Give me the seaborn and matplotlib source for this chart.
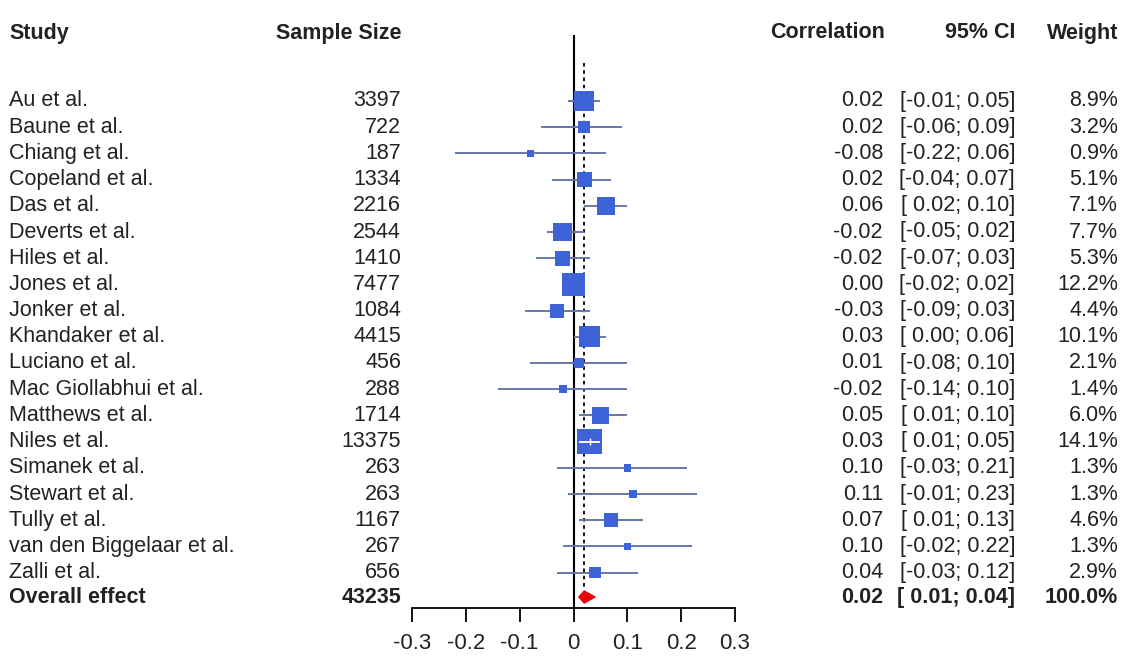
import matplotlib
matplotlib.use("Agg")
import matplotlib.pyplot as plt
import matplotlib.transforms as mtransforms
from matplotlib.patches import Polygon
import numpy as np
import seaborn as sns

# dados do forest plot
studies = ["Au et al.", "Baune et al.", "Chiang et al.", "Copeland et al.", "Das et al.",
           "Deverts et al.", "Hiles et al.", "Jones et al.", "Jonker et al.", "Khandaker et al.",
           "Luciano et al.", "Mac Giollabhui et al.", "Matthews et al.", "Niles et al.",
           "Simanek et al.", "Stewart et al.", "Tully et al.", "van den Biggelaar et al.",
           "Zalli et al."]
sample_size = [3397, 722, 187, 1334, 2216, 2544, 1410, 7477, 1084, 4415,
               456, 288, 1714, 13375, 263, 263, 1167, 267, 656]
corr = [0.02, 0.02, -0.08, 0.02, 0.06, -0.02, -0.02, 0.00, -0.03, 0.03,
        0.01, -0.02, 0.05, 0.03, 0.10, 0.11, 0.07, 0.10, 0.04]
ci_low = [-0.01, -0.06, -0.22, -0.04, 0.02, -0.05, -0.07, -0.02, -0.09, 0.00,
          -0.08, -0.14, 0.01, 0.01, -0.03, -0.01, 0.01, -0.02, -0.03]
ci_high = [0.05, 0.09, 0.06, 0.07, 0.10, 0.02, 0.03, 0.02, 0.03, 0.06,
           0.10, 0.10, 0.10, 0.05, 0.21, 0.23, 0.13, 0.22, 0.12]
weight = [8.9, 3.2, 0.9, 5.1, 7.1, 7.7, 5.3, 12.2, 4.4, 10.1,
          2.1, 1.4, 6.0, 14.1, 1.3, 1.3, 4.6, 1.3, 2.9]

overall_label = "Overall effect"
overall_n = 43235
overall_r = 0.02
overall_low = 0.01
overall_high = 0.04
overall_weight = 100.0

xticks = [-0.3, -0.2, -0.1, 0, 0.1, 0.2, 0.3]
xtick_labels = ["-0.3", "-0.2", "-0.1", "0", "0.1", "0.2", "0.3"]

sns.set_theme(style="white")
plt.rcParams["font.family"] = ["Liberation Sans", "DejaVu Sans"]
plt.rcParams["axes.unicode_minus"] = False

W, H = 1122, 660
fig = plt.figure(figsize=(W / 100, H / 100), dpi=100)
fig.patch.set_facecolor("white")

# area do grafico em pixels
left, right, top, bottom = 412, 735, 35, 608
ax = fig.add_axes([left / W, 1 - bottom / H, (right - left) / W, (bottom - top) / H])
ax.set_facecolor("white")

row0, step = 101, 26.2
rows = np.arange(len(studies))
y_overall = (597 - row0) / step
y_header = (33 - row0) / step
ax.set_xlim(-0.3, 0.3)
ax.set_ylim((bottom - row0) / step, (top - row0) / step)

# linhas de referencia
ax.axvline(0, color="black", lw=1.5, zorder=1)
ax.vlines(overall_r, (63 - row0) / step, (588 - row0) / step, color="black",
          lw=1.3, linestyles=(0, (2, 2)), zorder=1)

# tamanho dos quadrados ~ sqrt(peso)
side_px = 6.66 * np.sqrt(np.array(weight))
px_per_unit = (right - left) / 0.6
line_col = "#6677a8"
box_col = "#3e63d9"

ax.hlines(rows, ci_low, ci_high, color=line_col, lw=1.4, zorder=2)

sns.scatterplot(x=corr, y=rows, marker="s", s=(side_px * 0.72) ** 2,
                color=box_col, linewidth=0, ax=ax, zorder=3, legend=False)

# intervalo dentro do quadrado fica branco
for i in rows:
    half = side_px[i] / 2 / px_per_unit
    if ci_low[i] > corr[i] - half + 0.0025 and ci_high[i] < corr[i] + half - 0.0025:
        ax.hlines(i, ci_low[i], ci_high[i], color="white", lw=1.4, zorder=4)
        ax.vlines(corr[i], i - 0.12, i + 0.12, color="white", lw=1.0, zorder=4)

dh = 6 / step
diamond = Polygon([(overall_low, y_overall), (overall_r, y_overall - dh),
                   (overall_high, y_overall), (overall_r, y_overall + dh)],
                  closed=True, facecolor="#e8000b", edgecolor="#e8000b", zorder=4)
ax.add_patch(diamond)

for s in ["left", "top", "right"]:
    ax.spines[s].set_visible(False)
ax.spines["bottom"].set_color("black")
ax.spines["bottom"].set_linewidth(1.3)
ax.set_xticks(xticks)
ax.set_xticklabels(xtick_labels)
ax.set_yticks([])
ax.tick_params(axis="x", direction="out", length=10, width=1.3, color="black",
               labelsize=16, labelcolor="#222222", pad=8, bottom=True)
ax.grid(False)

# colunas de texto
tr = mtransforms.blended_transform_factory(fig.transFigure, ax.transData)
fs = 15.5
x_name, x_n, x_r, x_ci, x_w = 9 / W, 401 / W, 883 / W, 1015 / W, 1118 / W
kw = dict(transform=tr, fontsize=fs, va="center", color="#222222", clip_on=False)

for txt, x, ha in [("Study", x_name, "left"), ("Sample Size", x_n, "right"),
                   ("Correlation", 885 / W, "right"), ("95% CI", x_ci, "right"),
                   ("Weight", x_w, "right")]:
    ax.text(x, y_header, txt, ha=ha, fontweight="bold", **kw)


def fmt(v):
    return f"{v:.2f}" if v < 0 else f" {v:.2f}"


for i in rows:
    ax.text(x_name, i, studies[i], ha="left", **kw)
    ax.text(x_n, i, str(sample_size[i]), ha="right", **kw)
    ax.text(x_r, i, f"{corr[i]:.2f}", ha="right", **kw)
    ax.text(x_ci, i, f"[{fmt(ci_low[i])};{fmt(ci_high[i])}]", ha="right", **kw)
    ax.text(x_w, i, f"{weight[i]:.1f}%", ha="right", **kw)

ax.text(x_name, y_overall, overall_label, ha="left", fontweight="bold", **kw)
ax.text(x_n, y_overall, str(overall_n), ha="right", fontweight="bold", **kw)
ax.text(x_r, y_overall, f"{overall_r:.2f}", ha="right", fontweight="bold", **kw)
ax.text(x_ci, y_overall, f"[{fmt(overall_low)};{fmt(overall_high)}]", ha="right",
        fontweight="bold", **kw)
ax.text(x_w, y_overall, f"{overall_weight:.1f}%", ha="right", fontweight="bold", **kw)

fig.savefig("out.png", dpi=100, facecolor="white")
